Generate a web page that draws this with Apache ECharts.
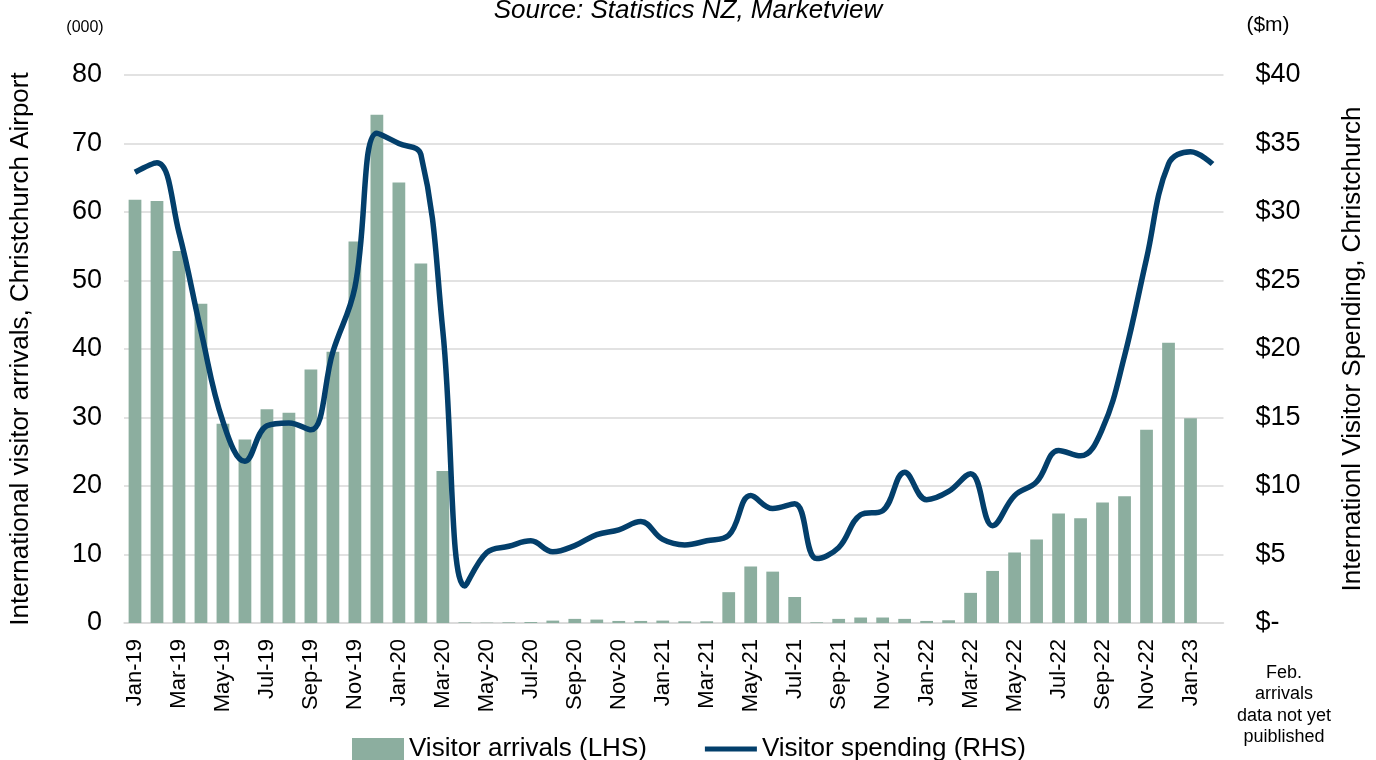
<!DOCTYPE html>
<html>
<head>
<meta charset="utf-8">
<script src="https://cdn.jsdelivr.net/npm/echarts@6/dist/echarts.min.js"></script>
<style>
  html, body { margin: 0; padding: 0; background: #fff; }
  #main { width: 1376px; height: 760px; }
</style>
</head>
<body>
<div id="main"></div>
<script>
// months Jan-19 .. Feb-23
var months = [
  'Jan-19','Feb-19','Mar-19','Apr-19','May-19','Jun-19','Jul-19','Aug-19','Sep-19','Oct-19','Nov-19','Dec-19',
  'Jan-20','Feb-20','Mar-20','Apr-20','May-20','Jun-20','Jul-20','Aug-20','Sep-20','Oct-20','Nov-20','Dec-20',
  'Jan-21','Feb-21','Mar-21','Apr-21','May-21','Jun-21','Jul-21','Aug-21','Sep-21','Oct-21','Nov-21','Dec-21',
  'Jan-22','Feb-22','Mar-22','Apr-22','May-22','Jun-22','Jul-22','Aug-22','Sep-22','Oct-22','Nov-22','Dec-22',
  'Jan-23','Feb-23'
];

// visitor arrivals (000), LHS - Feb-23 not published
var arrivals = [
  61.8, 61.6, 54.3, 46.6, 29.1, 26.8, 31.2, 30.7, 37.0, 39.6, 55.7, 74.2,
  64.3, 52.5, 22.2, 0.1, 0.05, 0.1, 0.15, 0.35, 0.6, 0.5, 0.3, 0.3,
  0.35, 0.25, 0.25, 4.5, 8.25, 7.5, 3.8, 0.1, 0.6, 0.8, 0.8, 0.6,
  0.3, 0.4, 4.4, 7.6, 10.3, 12.2, 16.0, 15.3, 17.6, 18.5, 28.2, 40.9,
  29.9, null
];

// visitor spending ($m), RHS
var spending = [
  32.9, 33.6, 28.5, 21.3, 14.7, 11.8, 14.4, 14.6, 14.1, 19.8, 24.5, 35.75,
  35.0, 34.2, 21.3, 2.7, 5.15, 5.6, 6.0, 5.2, 5.65, 6.45, 6.8, 7.4,
  6.1, 5.7, 6.0, 6.4, 9.3, 8.35, 8.7, 4.7, 5.5, 7.9, 8.2, 11.0,
  9.0, 9.6, 10.9, 7.1, 9.3, 10.3, 12.6, 12.2, 14.2, 19.5, 26.6, 33.5,
  34.4, 33.5
];

var FONT = 'Liberation Sans, Arial, sans-serif';
var gridGray = '#d9d9d9';

var myChart = echarts.init(document.getElementById('main'));
myChart.setOption({
  backgroundColor: '#fff',
  animation: false,
  textStyle: { fontFamily: FONT },
  grid: { left: 123.5, right: 152.5, top: 75, bottom: 137 },
  legend: {
    left: 347,
    top: 731,
    itemWidth: 52,
    itemHeight: 22,
    itemGap: 58,
    textStyle: { fontSize: 26, color: '#000', fontFamily: FONT },
    data: [
      { name: 'Visitor arrivals (LHS)', icon: 'rect' },
      { name: 'Visitor spending (RHS)', icon: 'path://M0,0H50V5H0Z' }
    ]
  },
  xAxis: {
    type: 'category',
    data: months,
    boundaryGap: true,
    axisLine: { lineStyle: { color: gridGray, width: 1.5 } },
    axisTick: { interval: 1, length: 7, lineStyle: { color: gridGray, width: 1.5 } },
    axisLabel: {
      interval: 1,
      rotate: 90,
      margin: 16,
      fontSize: 22,
      color: '#000',
      fontFamily: FONT
    }
  },
  yAxis: [
    {
      type: 'value',
      min: 0, max: 80, interval: 10,
      name: 'International visitor arrivals, Christchurch Airport',
      nameLocation: 'middle',
      nameRotate: 90,
      nameGap: 90,
      nameTextStyle: { fontSize: 26, color: '#000', fontFamily: FONT },
      axisLine: { show: false },
      axisTick: { show: false },
      axisLabel: { margin: 22, fontSize: 27, color: '#000', fontFamily: FONT },
      splitLine: { lineStyle: { color: gridGray, width: 1.5 } }
    },
    {
      type: 'value',
      min: 0, max: 40, interval: 5,
      name: 'Internationl Visitor Spending, Christchurch',
      nameLocation: 'middle',
      nameRotate: 90,
      nameGap: 116,
      nameTextStyle: { fontSize: 26, color: '#000', fontFamily: FONT },
      axisLine: { show: false },
      axisTick: { show: false },
      splitLine: { show: false },
      axisLabel: {
        margin: 32,
        fontSize: 27,
        color: '#000',
        fontFamily: FONT,
        formatter: function (v) { return v === 0 ? '$-' : '$' + v; }
      }
    }
  ],
  series: [
    {
      name: 'Visitor arrivals (LHS)',
      type: 'bar',
      yAxisIndex: 0,
      barWidth: '58%',
      itemStyle: { color: '#8cae9f' },
      data: arrivals
    },
    {
      name: 'Visitor spending (RHS)',
      type: 'line',
      yAxisIndex: 1,
      smooth: 0.4,
      showSymbol: false,
      symbol: 'none',
      itemStyle: { color: '#033f6b' },
      lineStyle: { color: '#033f6b', width: 5.5 },
      data: spending
    }
  ],
  graphic: [
    {
      type: 'text', left: 'center', top: -2,
      style: { text: 'Source: Statistics NZ, Marketview', font: 'italic 26px ' + FONT, fill: '#000' }
    },
    {
      type: 'text', x: 85, y: 28,
      style: { text: '(000)', font: '16px ' + FONT, fill: '#000', align: 'center', verticalAlign: 'middle' }
    },
    {
      type: 'text', x: 1268, y: 25,
      style: { text: '($m)', font: '21px ' + FONT, fill: '#000', align: 'center', verticalAlign: 'middle' }
    },
    {
      type: 'text', x: 1284, y: 662,
      style: {
        text: 'Feb.\narrivals\ndata not yet\npuiblished',
        font: '18px ' + FONT, lineHeight: 21.5, fill: '#000', align: 'center', verticalAlign: 'top'
      }
    }
  ]
});
</script>
</body>
</html>
